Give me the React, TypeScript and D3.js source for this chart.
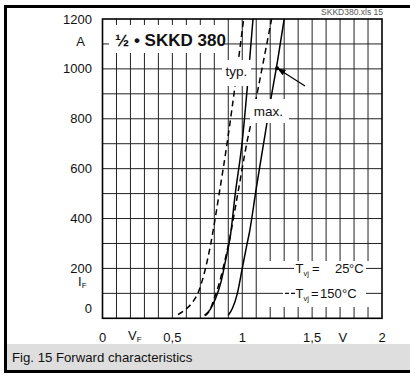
import React from 'react';
import * as d3 from 'd3';

// forward characteristics, [V_F in V, I_F in A]
const typ150: [number, number][] = [
  [0.54, 15], [0.6, 38], [0.647, 66], [0.682, 100], [0.737, 200], [0.775, 300],
  [0.835, 500], [0.895, 715], [0.955, 960], [1.01, 1200],
];
const typ25: [number, number][] = [
  [0.73, 12], [0.77, 35], [0.81, 80], [0.85, 150], [0.88, 230], [0.915, 330],
  [0.948, 490], [1.0, 710], [1.04, 950], [1.077, 1200],
];
const max150: [number, number][] = [
  [0.735, 10], [0.77, 35], [0.8, 80], [0.84, 150], [0.875, 230], [0.91, 320],
  [0.965, 490], [1.037, 715], [1.07, 800], [1.12, 940], [1.21, 1200],
];
const max25: [number, number][] = [
  [0.9, 12], [0.93, 40], [0.965, 100], [1.0, 200], [1.035, 300], [1.05, 340],
  [1.1, 520], [1.157, 715], [1.205, 880], [1.255, 1040], [1.3, 1200],
];

const voltTicks = [0, 0.5, 1, 1.5, 2];
const voltLabels = ['0', '0,5', '1', '1,5', '2'];
const currentTicks = [0, 200, 400, 600, 800, 1000, 1200];
const voltGrid = d3.range(1, 20).map(i => i / 10);
const currentGrid = d3.range(1, 12).map(i => i * 100);

const W = 410;
const H = 375;
const font = 'Liberation Sans, Arial, Helvetica, sans-serif';

export default function App() {
  const x = d3.scaleLinear().domain([0, 2]).range([102.5, 382]);
  const y = d3.scaleLinear().domain([0, 1200]).range([318.3, 19]);
  const [x0, x1] = x.range();
  const [y0, y1] = y.range();

  const line = d3.line<[number, number]>()
    .x(d => x(d[0]))
    .y(d => y(d[1]))
    .curve(d3.curveMonotoneX);

  const curves = [
    { pts: typ150, dash: '6,4' },
    { pts: typ25, dash: null },
    { pts: max150, dash: '6,4' },
    { pts: max25, dash: null },
  ];

  // arrow pointing at the max 25°C curve near 1000 A
  const tip = [x(1.25), y(1003)];
  const tail = [305, 86];
  const ang = Math.atan2(tail[1] - tip[1], tail[0] - tip[0]);
  const head = [
    [tip[0], tip[1]],
    [tip[0] + 9 * Math.cos(ang - 0.35), tip[1] + 9 * Math.sin(ang - 0.35)],
    [tip[0] + 9 * Math.cos(ang + 0.35), tip[1] + 9 * Math.sin(ang + 0.35)],
  ];

  const rowA = y(200);
  const rowB = y(100);

  return (
    <svg width={W} height={H} style={{ position: 'absolute', left: 0, top: 0, background: '#fff' }}
      fontFamily={font}>
      <defs>
        <clipPath id="plot">
          <rect x={x0} y={y1} width={x1 - x0} height={y0 - y1} />
        </clipPath>
      </defs>
      <rect width={W} height={H} fill="#fff" />

      {/* caption bar and frame */}
      <rect x={7} y={344} width={W - 7} height={26} fill="#dedede" />
      <rect x={4} y={5} width={W - 4} height={3} fill="#000" />
      <rect x={4} y={370} width={W - 4} height={3} fill="#000" />
      <rect x={4} y={5} width={3} height={368} fill="#000" />
      <text x={12} y={362} fontSize={13.2} fill="#111">Fig. 15 Forward characteristics</text>
      <text x={383} y={15} fontSize={8.5} fill="#555" textAnchor="end">SKKD380.xls 15</text>

      {/* grid */}
      {voltGrid.map(v => (
        <line key={'v' + v} x1={x(v)} x2={x(v)} y1={y1} y2={y0} stroke="#222" strokeWidth={1} />
      ))}
      {currentGrid.map(c => (
        <line key={'h' + c} x1={x0} x2={x1} y1={y(c)} y2={y(c)} stroke="#222" strokeWidth={1} />
      ))}

      {/* curves */}
      <g clipPath="url(#plot)">
        {curves.map((c, i) => (
          <path key={i} d={line(c.pts) || ''} fill="none" stroke="#000" strokeWidth={1.5}
            strokeDasharray={c.dash || undefined} />
        ))}
      </g>

      {/* label boxes */}
      <rect x={109} y={25} width={115} height={28} fill="#fff" />
      <text x={115} y={46} fontSize={17} fontWeight="bold" fill="#111">½ • SKKD 380</text>

      <rect x={222} y={60} width={29} height={26} fill="#fff" />
      <text x={236.5} y={76} fontSize={13.5} textAnchor="middle" fill="#111">typ.</text>

      <rect x={250} y={99} width={39} height={24} fill="#fff" />
      <text x={268.5} y={115.5} fontSize={13.5} textAnchor="middle" fill="#111">max.</text>

      <line x1={tail[0]} y1={tail[1]} x2={tip[0]} y2={tip[1]} stroke="#000" strokeWidth={1.2} />
      <polygon points={head.map(p => p.join(',')).join(' ')} fill="#000" />
      <circle cx={tip[0]} cy={tip[1]} r={2} fill="#000" />

      {/* legend */}
      <rect x={268} y={261} width={x1 - 268} height={46} fill="#fff" />
      <line x1={268} x2={294} y1={rowA} y2={rowA} stroke="#222" strokeWidth={1} />
      <line x1={366} x2={x1} y1={rowA} y2={rowA} stroke="#222" strokeWidth={1} />
      <line x1={268} x2={283} y1={rowB} y2={rowB} stroke="#222" strokeWidth={1} />
      <line x1={285} x2={289} y1={rowB} y2={rowB} stroke="#000" strokeWidth={1.2} />
      <line x1={291} x2={295} y1={rowB} y2={rowB} stroke="#000" strokeWidth={1.2} />
      <line x1={366} x2={x1} y1={rowB} y2={rowB} stroke="#222" strokeWidth={1} />
      <text y={rowA + 5} fontSize={13} fill="#111">
        <tspan x={295.5}>T</tspan><tspan fontSize={7.5} dy={3}>vj</tspan>
        <tspan dy={-3} x={312}>=</tspan>
        <tspan x={335}>25</tspan><tspan x={349}>°C</tspan>
      </text>
      <text y={rowB + 5} fontSize={13} fill="#111">
        <tspan x={295.5}>T</tspan><tspan fontSize={7.5} dy={3}>vj</tspan>
        <tspan dy={-3} x={311}>=</tspan>
        <tspan x={320}>150</tspan><tspan x={342}>°C</tspan>
      </text>

      {/* frame */}
      <rect x={x0} y={y1} width={x1 - x0} height={y0 - y1} fill="none" stroke="#000" strokeWidth={1.6} />

      {/* y axis labels */}
      {currentTicks.map(c => (
        <text key={'yl' + c} x={92} y={(c === 0 ? y(c) - 10 : y(c)) + 4.5} fontSize={13}
          textAnchor="end" fill="#111">{c}</text>
      ))}
      <text x={80.5} y={y(1100) + 2} fontSize={13} textAnchor="middle" fill="#111">A</text>
      <text x={78} y={y(100) - 7} fontSize={13} fill="#111">
        I<tspan fontSize={8} dy={2}>F</tspan>
      </text>

      {/* x axis labels */}
      {voltTicks.map((v, i) => (
        <text key={'xl' + v} x={x(v)} y={342} fontSize={13} textAnchor="middle" fill="#111">
          {voltLabels[i]}
        </text>
      ))}
      <text x={128} y={340} fontSize={13} fill="#111">
        V<tspan fontSize={8} dy={2}>F</tspan>
      </text>
      <text x={x(1.72)} y={342} fontSize={13} textAnchor="middle" fill="#111">V</text>
    </svg>
  );
}
